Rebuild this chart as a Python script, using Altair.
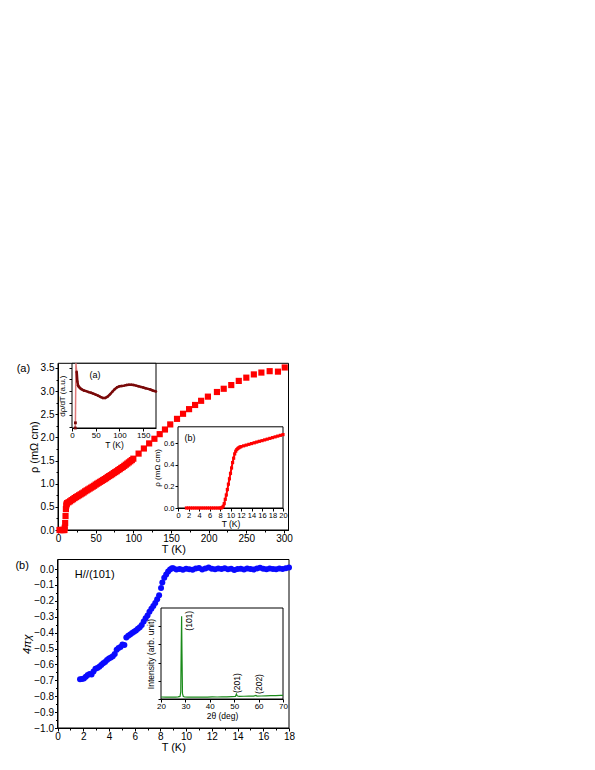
import altair as alt
import pandas as pd

FONT = "Liberation Sans"
W, H = 579, 754

# ---------------- data ----------------
# panel (a): resistivity vs T
rho_T = [2, 3, 4, 5, 6, 7, 8, 8.5, 9, 9.5, 10, 10.5, 11, 11.5,
         12, 14, 16, 18, 20, 22, 24, 26, 28, 30, 32, 34, 36, 38, 40, 42, 44, 46, 48, 50,
         52, 54, 56, 58, 60, 62, 64, 66, 68, 70, 72, 74, 76, 78, 80, 82, 84, 86, 88, 90,
         92, 94, 96, 98, 100, 107, 114, 121, 128, 135, 142, 149, 158, 166, 174, 182, 190,
         199, 211, 220, 230, 240, 250, 260, 270, 281, 292, 301]
rho_V = [0, 0, 0, 0, 0, 0, 0, 0.0, 0.05, 0.15, 0.3, 0.45, 0.53, 0.56,
         0.58, 0.60, 0.62, 0.645, 0.665, 0.69, 0.71, 0.73, 0.75, 0.77, 0.79, 0.81, 0.835, 0.855,
         0.875, 0.895, 0.915, 0.935, 0.955, 0.98, 1.0, 1.02, 1.04, 1.06, 1.08, 1.10, 1.12, 1.145,
         1.165, 1.185, 1.205, 1.23, 1.25, 1.27, 1.295, 1.315, 1.34, 1.36, 1.385, 1.41, 1.435,
         1.46, 1.485, 1.51, 1.54, 1.65, 1.76, 1.87, 1.97, 2.07, 2.17, 2.28, 2.40, 2.51, 2.61,
         2.70, 2.79, 2.88, 2.98, 3.05, 3.13, 3.22, 3.29, 3.36, 3.40, 3.43, 3.42, 3.51]

# inset (a): d rho / dT (arbitrary units)
spike_T = [6.8, 7.2, 8.3, 9.9]
spike_V = [-10, 8, 150, 87]
drdt_T = [9.9, 11.3, 12.7, 14, 16, 18, 20, 25, 30, 35, 40, 45, 50, 55, 60, 65, 70, 75, 80,
          85, 90, 95, 100, 105, 110, 115, 120, 125, 130, 135, 140, 145, 150, 155, 160, 165,
          170, 177]
drdt_V = [87, 72, 66, 64, 62.5, 61, 60, 58, 57, 55.5, 54.5, 53, 51.5, 50, 48, 46.5, 46.5,
          48.5, 52, 56, 60, 63, 64.5, 65, 65.5, 66.5, 67, 67, 66.5, 65.5, 64.5, 63.5, 62.5,
          61.5, 60.5, 59.5, 58, 56.5]
drdt_low_T = [6.9, 7.2]
drdt_low_V = [-5, 8]

# inset (b): low-T resistivity
lowT = [1.6, 2.0, 2.4, 2.8, 3.2, 3.6, 4.0, 4.4, 4.8, 5.2, 5.6, 6.0, 6.4, 6.8, 7.2, 7.6, 8.0,
        8.2, 8.4, 8.6, 8.8, 9.0, 9.2, 9.4, 9.6, 9.8, 10.0, 10.2, 10.4, 10.6, 10.8, 11.0, 11.2,
        11.4, 11.6, 11.8, 12.0, 12.5, 13.0, 13.5, 14.0, 14.5, 15.0, 15.5, 16.0, 16.5, 17.0,
        17.5, 18.0, 18.5, 19.0, 19.5, 20.0]
lowRho = [0, 0, 0, 0, 0, 0, 0, 0, 0, 0, 0, 0, 0, 0, 0, 0, 0,
          0.0, 0.005, 0.015, 0.04, 0.08, 0.12, 0.17, 0.22, 0.27, 0.32, 0.37, 0.42, 0.46, 0.50,
          0.525, 0.54, 0.55, 0.557, 0.563, 0.567, 0.574, 0.581, 0.588, 0.595, 0.602, 0.609,
          0.616, 0.622, 0.629, 0.636, 0.643, 0.65, 0.657, 0.664, 0.671, 0.678]

# panel (b): susceptibility
chi_T = [1.75, 1.9, 2.05, 2.2, 2.35, 2.5, 2.65, 2.8, 2.95, 3.1, 3.25, 3.4, 3.55, 3.7, 3.85,
         4.0, 4.15, 4.3, 4.45, 4.6, 4.75, 4.9, 5.05, 5.2, 5.35, 5.5, 5.65, 5.8, 5.95, 6.1,
         6.25, 6.4, 6.55, 6.7, 6.85, 7.0, 7.15, 7.3, 7.45, 7.6, 7.75, 7.9, 8.05, 8.15, 8.3,
         8.45, 8.6, 8.75, 8.9, 9.0, 9.25, 9.5, 9.75, 10.0, 10.25, 10.5, 10.75, 11.0, 11.25,
         11.5, 11.75, 12.0, 12.25, 12.5, 12.75, 13.0, 13.25, 13.5, 13.75, 14.0, 14.25, 14.5,
         14.75, 15.0, 15.25, 15.5, 15.75, 16.0, 16.25, 16.5, 16.75, 17.0, 17.25, 17.5, 17.75,
         18.0]
chi_V = [-0.693, -0.692, -0.688, -0.678, -0.666, -0.66, -0.664, -0.645, -0.628, -0.622,
         -0.615, -0.603, -0.593, -0.585, -0.573, -0.563, -0.556, -0.548, -0.535, -0.508,
         -0.497, -0.49, -0.475, -0.478, -0.43, -0.42, -0.412, -0.403, -0.395, -0.386, -0.376,
         -0.366, -0.352, -0.33, -0.31, -0.293, -0.268, -0.25, -0.233, -0.213, -0.19, -0.165,
         -0.12, -0.085, -0.055, -0.035, -0.015, -0.003, 0.005, 0.005, -0.003, 0.0, -0.004,
         0.002, -0.002, -0.005, 0.003, 0.006, -0.003, 0.004, 0.01, 0.002, -0.002, 0.003, 0.0,
         0.005, -0.002, 0.002, -0.006, 0.0, 0.002, -0.003, 0.004, 0.0, -0.003, 0.004, 0.008,
         0.002, -0.002, 0.003, 0.0, -0.002, 0.004, 0.0, 0.005, 0.01]

# XRD inset
xrd_2t = [20, 22, 24, 26, 27, 27.8, 28.1, 28.3, 28.45, 28.6, 28.8, 29.1, 29.6, 31, 33, 35,
          37, 39, 41, 43, 45, 47, 49, 50.5, 50.9, 51.2, 52, 54, 56, 58, 58.9, 59.3, 61, 63,
          65, 67, 69, 70]
xrd_I = [2.2, 2.0, 2.2, 2.1, 2.3, 2.8, 8, 60, 91, 50, 6, 3, 2.2, 2.0, 2.2, 2.0, 2.2, 2.1,
         2.3, 2.2, 2.4, 2.4, 2.6, 2.8, 5.5, 3.5, 2.8, 3.0, 3.1, 3.2, 4.0, 3.2, 3.3, 3.5, 3.6,
         3.8, 3.9, 4.0]
xrd_labels = ["(101)", "(201)", "(202)"]
xrd_lab_x = [31.5, 51.3, 60.2]
xrd_lab_y = [86, 17.5, 16.5]

# tick values
a_xticks = [0, 50, 100, 150, 200, 250, 300]
a_xminor = [25, 75, 125, 175, 225, 275]
a_yticks = [0.0, 0.5, 1.0, 1.5, 2.0, 2.5, 3.0, 3.5]
a_yminor = [0.25, 0.75, 1.25, 1.75, 2.25, 2.75, 3.25]
ia_xticks = [0, 50, 100, 150]
ia_yticks = [2, 20, 38.5, 57, 75, 93.5]
ib_xticks = [0, 2, 4, 6, 8, 10, 12, 14, 16, 18, 20]
ib_yticks = [0.0, 0.2, 0.4, 0.6]
b_xticks = [0, 2, 4, 6, 8, 10, 12, 14, 16, 18]
b_xminor = [1, 3, 5, 7, 9, 11, 13, 15, 17]
b_yticks = [-1.0, -0.9, -0.8, -0.7, -0.6, -0.5, -0.4, -0.3, -0.2, -0.1, 0.0]
b_yminor = [-0.95, -0.85, -0.75, -0.65, -0.55, -0.45, -0.35, -0.25, -0.15, -0.05]
x_xticks = [20, 30, 40, 50, 60, 70]
x_yticks = [0, 20, 40, 60, 80]

# ---------------- geometry (chart px) ----------------
PA = dict(xd=[0, 306], yd=[0, 3.6], xr=[50, 280.5], yr=[522, 355.3])
IA = dict(xd=[0, 177], yd=[0, 100], xr=[64, 148], yr=[420, 355.3])
IB = dict(xd=[0, 20], yd=[0, 0.75], xr=[170, 275], yr=[500, 418.8])
PB = dict(xd=[0, 18], yd=[-1.0, 0.06], xr=[49.5, 281], yr=[720, 551.5])
IX = dict(xd=[20, 70], yd=[0, 100], xr=[153, 275], yr=[691, 600])


def sc(domain, rng, clamp=False):
    return alt.Scale(domain=domain, range=rng, nice=False, zero=False, clamp=clamp)


def axis(orient, offset, values, title, lsize, tsize, tpad, fmt=None, labels=True,
         tstyle="normal", tick=3, lpad=1, domain=True):
    kw = dict(orient=orient, offset=offset, values=values, title=title,
              labelFontSize=lsize, titleFontSize=tsize, titlePadding=tpad,
              tickSize=tick, grid=False, labelFont=FONT, titleFont=FONT,
              titleFontWeight="normal", titleFontStyle=tstyle, domainColor="black",
              tickColor="black", labelColor="black", titleColor="black",
              labelPadding=lpad, labelFlush=False, labelOverlap=False, labels=labels,
              domain=domain)
    if fmt:
        kw["format"] = fmt
    return alt.Axis(**kw)


def frame(g, xaxis, yaxis, fill_op, stroke_op=1):
    df = pd.DataFrame({"x0": [g["xd"][0]], "x1": [g["xd"][1]],
                       "y0": [g["yd"][0]], "y1": [g["yd"][1]]})
    return alt.Chart(df).mark_rect(fill="white", fillOpacity=fill_op, stroke="black",
                                   strokeOpacity=stroke_op, strokeWidth=1).encode(
        x=alt.X("x0:Q", scale=sc(g["xd"], g["xr"]), axis=xaxis),
        x2="x1:Q",
        y=alt.Y("y0:Q", scale=sc(g["yd"], g["yr"]), axis=yaxis),
        y2="y1:Q")


def minor(g, xoff, xvals, yoff, yvals):
    return frame(g,
                 axis("bottom", xoff, xvals, "", 1, 1, 0, labels=False, tick=2,
                      domain=False),
                 axis("left", yoff, yvals, "", 1, 1, 0, labels=False, tick=2,
                      domain=False), 0, 0)


def enc(g, clamp=False):
    return dict(x=alt.X("x:Q", scale=sc(g["xd"], g["xr"], clamp), axis=None),
                y=alt.Y("y:Q", scale=sc(g["yd"], g["yr"], clamp), axis=None))


def df(xs, ys):
    return pd.DataFrame({"x": xs, "y": ys})


def label(g, x, y, text, size, **kw):
    d = pd.DataFrame({"x": [x], "y": [y], "t": [text]})
    return alt.Chart(d).mark_text(font=FONT, fontSize=size, color="black", **kw).encode(
        text="t:N", **enc(g))


layers = []
# ---- panel (a)
layers.append(frame(PA,
                    axis("bottom", 522 - H, a_xticks, "T (K)", 10, 11, 0, lpad=0),
                    axis("left", -50, a_yticks, "ρ (mΩ cm)", 10, 11, 1, fmt=".1f"), 0))
layers.append(minor(PA, 522 - H, a_xminor, -50, a_yminor))
layers.append(alt.Chart(df(rho_T, rho_V)).mark_square(size=38, color="#ff0000",
                                                       opacity=1).encode(**enc(PA)))
layers.append(label(PA, -46, 3.48, "(a)", 11))

# ---- panel (b)
layers.append(frame(PB,
                    axis("bottom", 720 - H, b_xticks, "T (K)", 10, 11, 0, lpad=0),
                    axis("left", -49.5, b_yticks, "4πχ", 10, 11, 1, fmt=".1f",
                         tstyle="italic"), 0))
layers.append(minor(PB, 720 - H, b_xminor, -49.5, b_yminor))
layers.append(alt.Chart(df(chi_T, chi_V)).mark_circle(size=36, color="#0a0aff",
                                                       opacity=1).encode(**enc(PB)))
layers.append(label(PB, -2.75, 0.019, "(b)", 11))
layers.append(label(PB, 1.35, -0.038, "H//(101)", 11, align="left"))

# ---- inset (a)
layers.append(frame(IA,
                    axis("bottom", 420 - H, ia_xticks, "T (K)", 8, 8.5, 1, lpad=0),
                    axis("left", -64, ia_yticks, "dρ/dT (a.u.)", 8, 8, 2, labels=False), 1))
layers.append(alt.Chart(df(spike_T, spike_V)).mark_line(color="#e07a7a",
                                                         strokeWidth=1.5).encode(
    **enc(IA, clamp=True)))
layers.append(alt.Chart(df(drdt_T, drdt_V)).mark_line(color="#7a0a0a", strokeWidth=2.5,
                                                       point=alt.OverlayMarkDef(
                                                           color="#7a0a0a", size=6)).encode(
    **enc(IA)))
layers.append(alt.Chart(df(drdt_low_T, drdt_low_V)).mark_square(color="#7a0a0a", size=8,
                                                                 opacity=1).encode(
    **enc(IA, clamp=True)))
layers.append(label(IA, 48.5, 81.5, "(a)", 9))

# ---- inset (b)
layers.append(frame(IB,
                    axis("bottom", 500 - H, ib_xticks, "T (K)", 7.5, 8.5, 1, lpad=0),
                    axis("left", -170, ib_yticks, "ρ (mΩ cm)", 7.5, 8, 2, fmt=".1f"), 1))
layers.append(alt.Chart(df(lowT, lowRho)).mark_line(color="#ff0000", strokeWidth=2).encode(
    **enc(IB)))
layers.append(alt.Chart(df(lowT, lowRho)).mark_square(size=10, color="#ff0000",
                                                       opacity=1).encode(**enc(IB)))
layers.append(label(IB, 2.3, 0.65, "(b)", 9))

# ---- XRD inset
layers.append(frame(IX,
                    axis("bottom", 691 - H, x_xticks, "2θ (deg)", 8, 8.5, 1, lpad=0),
                    axis("left", -153, x_yticks, "Intensity (arb. unit)", 8, 8.5, 2,
                         labels=False), 1))
layers.append(alt.Chart(df(xrd_2t, xrd_I)).mark_line(color="#1a8a1a", strokeWidth=1.2).encode(
    **enc(IX)))
layers.append(alt.Chart(pd.DataFrame({"x": xrd_lab_x, "y": xrd_lab_y, "t": xrd_labels}))
              .mark_text(font=FONT, fontSize=8.5, color="black", angle=270)
              .encode(text="t:N", **enc(IX)))

chart = (alt.layer(*layers)
         .resolve_scale(x="independent", y="independent")
         .resolve_axis(x="independent", y="independent")
         .properties(width=W, height=H, padding=0,
                     autosize=alt.AutoSizeParams(type="none"))
         .configure_view(stroke=None))

chart.save("out.html", embed_options={"renderer": "svg", "actions": False})
